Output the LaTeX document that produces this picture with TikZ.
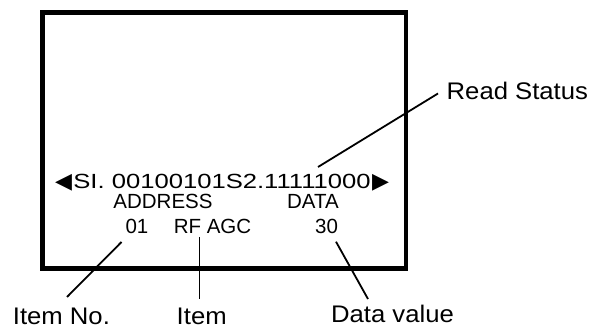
\documentclass[tikz,border=0pt]{standalone}
\usepackage{fontspec}
\setmainfont[FakeStretch=1.07]{Liberation Sans}
\newfontfamily\scr{Liberation Sans}
\newfontfamily\mainline[FakeStretch=1.25]{Liberation Sans}
\newfontfamily\dv{DejaVu Sans}
\begin{document}
\begin{tikzpicture}[x=1pt,y=-1pt,
  lbl/.style={inner sep=0pt,font=\fontsize{24}{24}\selectfont},
  scrtxt/.style={inner sep=0pt,font=\scr\fontsize{20.5}{20.5}\selectfont},
  tri/.style={inner sep=0pt,font=\dv\fontsize{22}{22}\selectfont},
  frame/.style={line width=4.5pt},
  conn/.style={line width=1.8pt}]
\useasboundingbox (0,0) rectangle (592,328);
\draw[frame] (42.5,12.5) rectangle (405.8,268.7);
\node[inner sep=0pt,anchor=base,font=\mainline\fontsize{20.5}{20.5}\selectfont] (main) at (222,189)
  {SI. 00100101S2.11111000};
\node[tri,anchor=base east] (tl) at ([xshift=-1pt]main.base west) {◀};
\node[tri,anchor=base west] (tr) at ([xshift=1pt]main.base east) {▶};
\node[scrtxt,anchor=base] (addr) at (163,208.5) {ADDRESS};
\node[scrtxt,anchor=base] (data) at (313,208.5) {DATA};
\node[scrtxt,anchor=base] (no) at (137,233.5) {01};
\node[scrtxt,anchor=base] (item) at (212.5,233.5) {RF AGC};
\node[scrtxt,anchor=base] (val) at (326.5,233.5) {30};
\node[lbl,anchor=base] (lno) at (61.4,324.3) {Item No.};
\node[lbl,anchor=base] (litem) at (201.7,324.3) {Item};
\node[lbl,anchor=base] (lval) at (392.5,322.5) {Data value};
\node[lbl,anchor=base west] (lread) at (446.5,100) {Read Status};
\coordinate (a1) at (318,167);
\coordinate (a2) at (438,93.5);
\coordinate (b1) at (121.5,242);
\coordinate (b2) at (67,297);
\coordinate (c1) at (199.5,237);
\coordinate (c2) at (199.5,299);
\coordinate (d1) at (336,241.7);
\coordinate (d2) at (368,299);
\draw[conn] (a1) -- (a2);
\draw[conn] (b1) -- (b2);
\draw[conn] (c1) -- (c2);
\draw[conn] (d1) -- (d2);
\end{tikzpicture}
\end{document}
